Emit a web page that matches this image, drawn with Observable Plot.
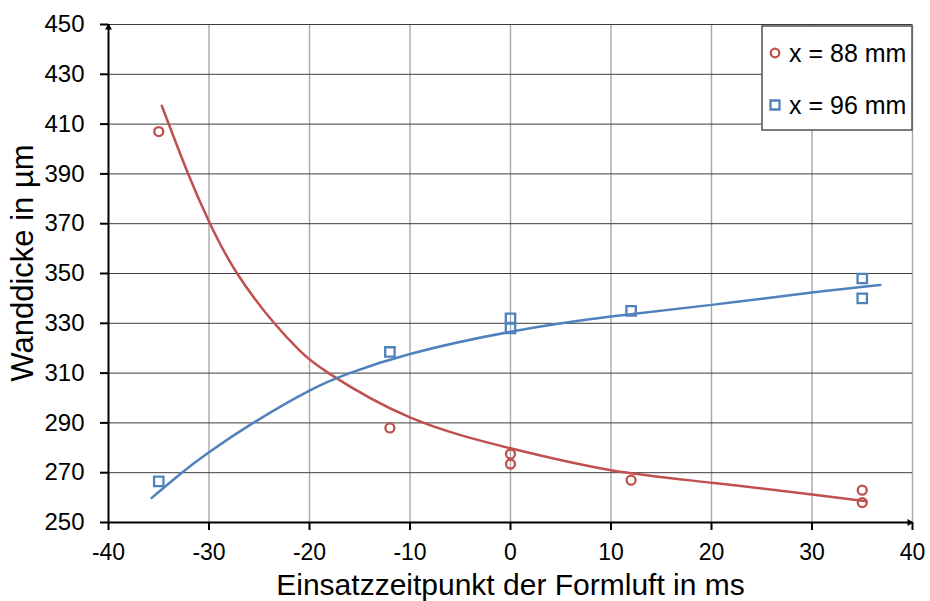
<!DOCTYPE html>
<html>
<head>
<meta charset="utf-8">
<script src="https://cdn.jsdelivr.net/npm/d3@7"></script>
<script src="https://cdn.jsdelivr.net/npm/@observablehq/plot@0.6"></script>
<style>
  html, body { margin: 0; padding: 0; background: #fff; }
  #chart { width: 930px; height: 601px; }
</style>
</head>
<body>
<div id="chart"></div>
<script>
// Axis ticks
const xTicks = [-40, -30, -20, -10, 0, 10, 20, 30, 40];
const yTicks = [250, 270, 290, 310, 330, 350, 370, 390, 410, 430, 450];

// Measured wall thickness, position x = 88 mm
const time88 = [-35, -12, 0, 0, 12, 35, 35];
const wall88 = [407, 288, 277.5, 273.5, 267, 263, 258];

// Measured wall thickness, position x = 96 mm
const time96 = [-35, -12, 0, 0, 12, 35, 35];
const wall96 = [266.5, 318.5, 332, 328, 335, 348, 340];

// Trend curves
const trendTime88 = [-34.7, -32.2, -30, -27.2, -23.5, -20.95, -18.1, -10, 0, 10, 20, 30, 35.4];
const trendWall88 = [417.4, 391.3, 370.9, 350, 330, 318.9, 310, 292.2, 279.8, 271, 266, 261.2, 258.5];
const trendTime96 = [-35.7, -32.7, -30, -25.6, -20, -16, -10, 0, 10, 20, 30, 36.8];
const trendWall96 = [259.9, 270, 278.2, 290, 303, 310, 317.7, 326.6, 332.7, 337.4, 342.4, 345.4];

const seriesNames = ["x = 88 mm", "x = 96 mm"];
const xTitle = "Einsatzzeitpunkt der Formluft in ms";
const yTitle = "Wanddicke in µm";

const RED = "#C0504D";
const BLUE = "#4F81BD";
const FONT = "'Liberation Sans', Arial, Helvetica, sans-serif";

const pts88 = time88.map((t, i) => ({t, w: wall88[i]}));
const pts96 = time96.map((t, i) => ({t, w: wall96[i]}));
const tr88 = trendTime88.map((t, i) => ({t, w: trendWall88[i]}));
const tr96 = trendTime96.map((t, i) => ({t, w: trendWall96[i]}));

const xMin = xTicks[0], xMax = xTicks[xTicks.length - 1];
const yMin = yTicks[0], yMax = yTicks[yTicks.length - 1];

const chart = Plot.plot({
  width: 930,
  height: 601,
  marginLeft: 108,
  marginRight: 18,
  marginTop: 24,
  marginBottom: 79,
  x: {domain: [xMin, xMax]},
  y: {domain: [yMin, yMax]},
  style: {fontFamily: FONT, background: "#fff", color: "#000", overflow: "visible"},
  marks: [
    // grid
    Plot.ruleX(xTicks.filter(d => d > xMin), {stroke: "#a8a8a8", strokeWidth: 1.4}),
    Plot.ruleY(yTicks.filter(d => d > yMin), {stroke: "#3c3c3c", strokeWidth: 1}),
    // axes
    Plot.axisX({ticks: xTicks, tickFormat: d => String(d), tickSize: 8, tickPadding: 13,
      fontSize: 23, strokeWidth: 2, stroke: "#000", label: null}),
    Plot.axisY({ticks: yTicks, tickFormat: d => String(d), tickSize: 8, tickPadding: 16,
      fontSize: 24, strokeWidth: 2, stroke: "#000", label: null}),
    Plot.ruleX([xMin], {stroke: "#000", strokeWidth: 2}),
    Plot.ruleY([yMin], {stroke: "#000", strokeWidth: 2}),
    Plot.dot([{t: xMin, w: yMax}], {x: "t", y: "w", symbol: "triangle", r: 2.6, fill: "#000", dy: 3}),
    Plot.dot([{t: xMax, w: yMin}], {x: "t", y: "w", symbol: "triangle", r: 2.6, fill: "#000", rotate: 90, dx: -3}),
    // trend curves
    Plot.line(tr88, {x: "t", y: "w", curve: "natural", stroke: RED, strokeWidth: 2.5}),
    Plot.line(tr96, {x: "t", y: "w", curve: "natural", stroke: BLUE, strokeWidth: 2.5}),
    // measurements
    Plot.dot(pts88, {x: "t", y: "w", symbol: "circle", r: 4.5, stroke: RED, strokeWidth: 2.3, fill: "none"}),
    Plot.dot(pts96, {x: "t", y: "w", symbol: "square", r: 5.3, stroke: BLUE, strokeWidth: 2.3, fill: "none"}),
    // axis titles
    Plot.text([yTitle], {frameAnchor: "left", textAnchor: "middle", lineAnchor: "middle",
      rotate: -90, dx: -85, dy: -10.5, fontSize: 31, fill: "#000"}),
    Plot.text([xTitle], {frameAnchor: "bottom", textAnchor: "middle", lineAnchor: "middle",
      dy: 62.5, fontSize: 30, fill: "#000"})
  ]
});

document.getElementById("chart").appendChild(chart);

// Legend box, top right inside the plot area
const svg = d3.select(chart);
const lg = svg.append("g").attr("font-family", FONT).attr("text-anchor", "start");
lg.append("rect").attr("x", 762).attr("y", 26).attr("width", 150).attr("height", 104)
  .attr("fill", "#fff").attr("stroke", "#505050").attr("stroke-width", 1.5);
const entries = [
  {name: seriesNames[0], color: RED, symbol: d3.symbolCircle, size: Math.PI * 4.3 * 4.3, y: 53},
  {name: seriesNames[1], color: BLUE, symbol: d3.symbolSquare, size: 81, y: 105}
];
for (const e of entries) {
  lg.append("path").attr("d", d3.symbol(e.symbol, e.size)())
    .attr("transform", `translate(775,${e.y})`)
    .attr("fill", "none").attr("stroke", e.color).attr("stroke-width", 2.3);
  lg.append("text").attr("x", 789).attr("y", e.y).attr("dy", "0.35em")
    .attr("text-anchor", "start").attr("font-size", 25).attr("fill", "#000").text(e.name);
}
</script>
</body>
</html>
